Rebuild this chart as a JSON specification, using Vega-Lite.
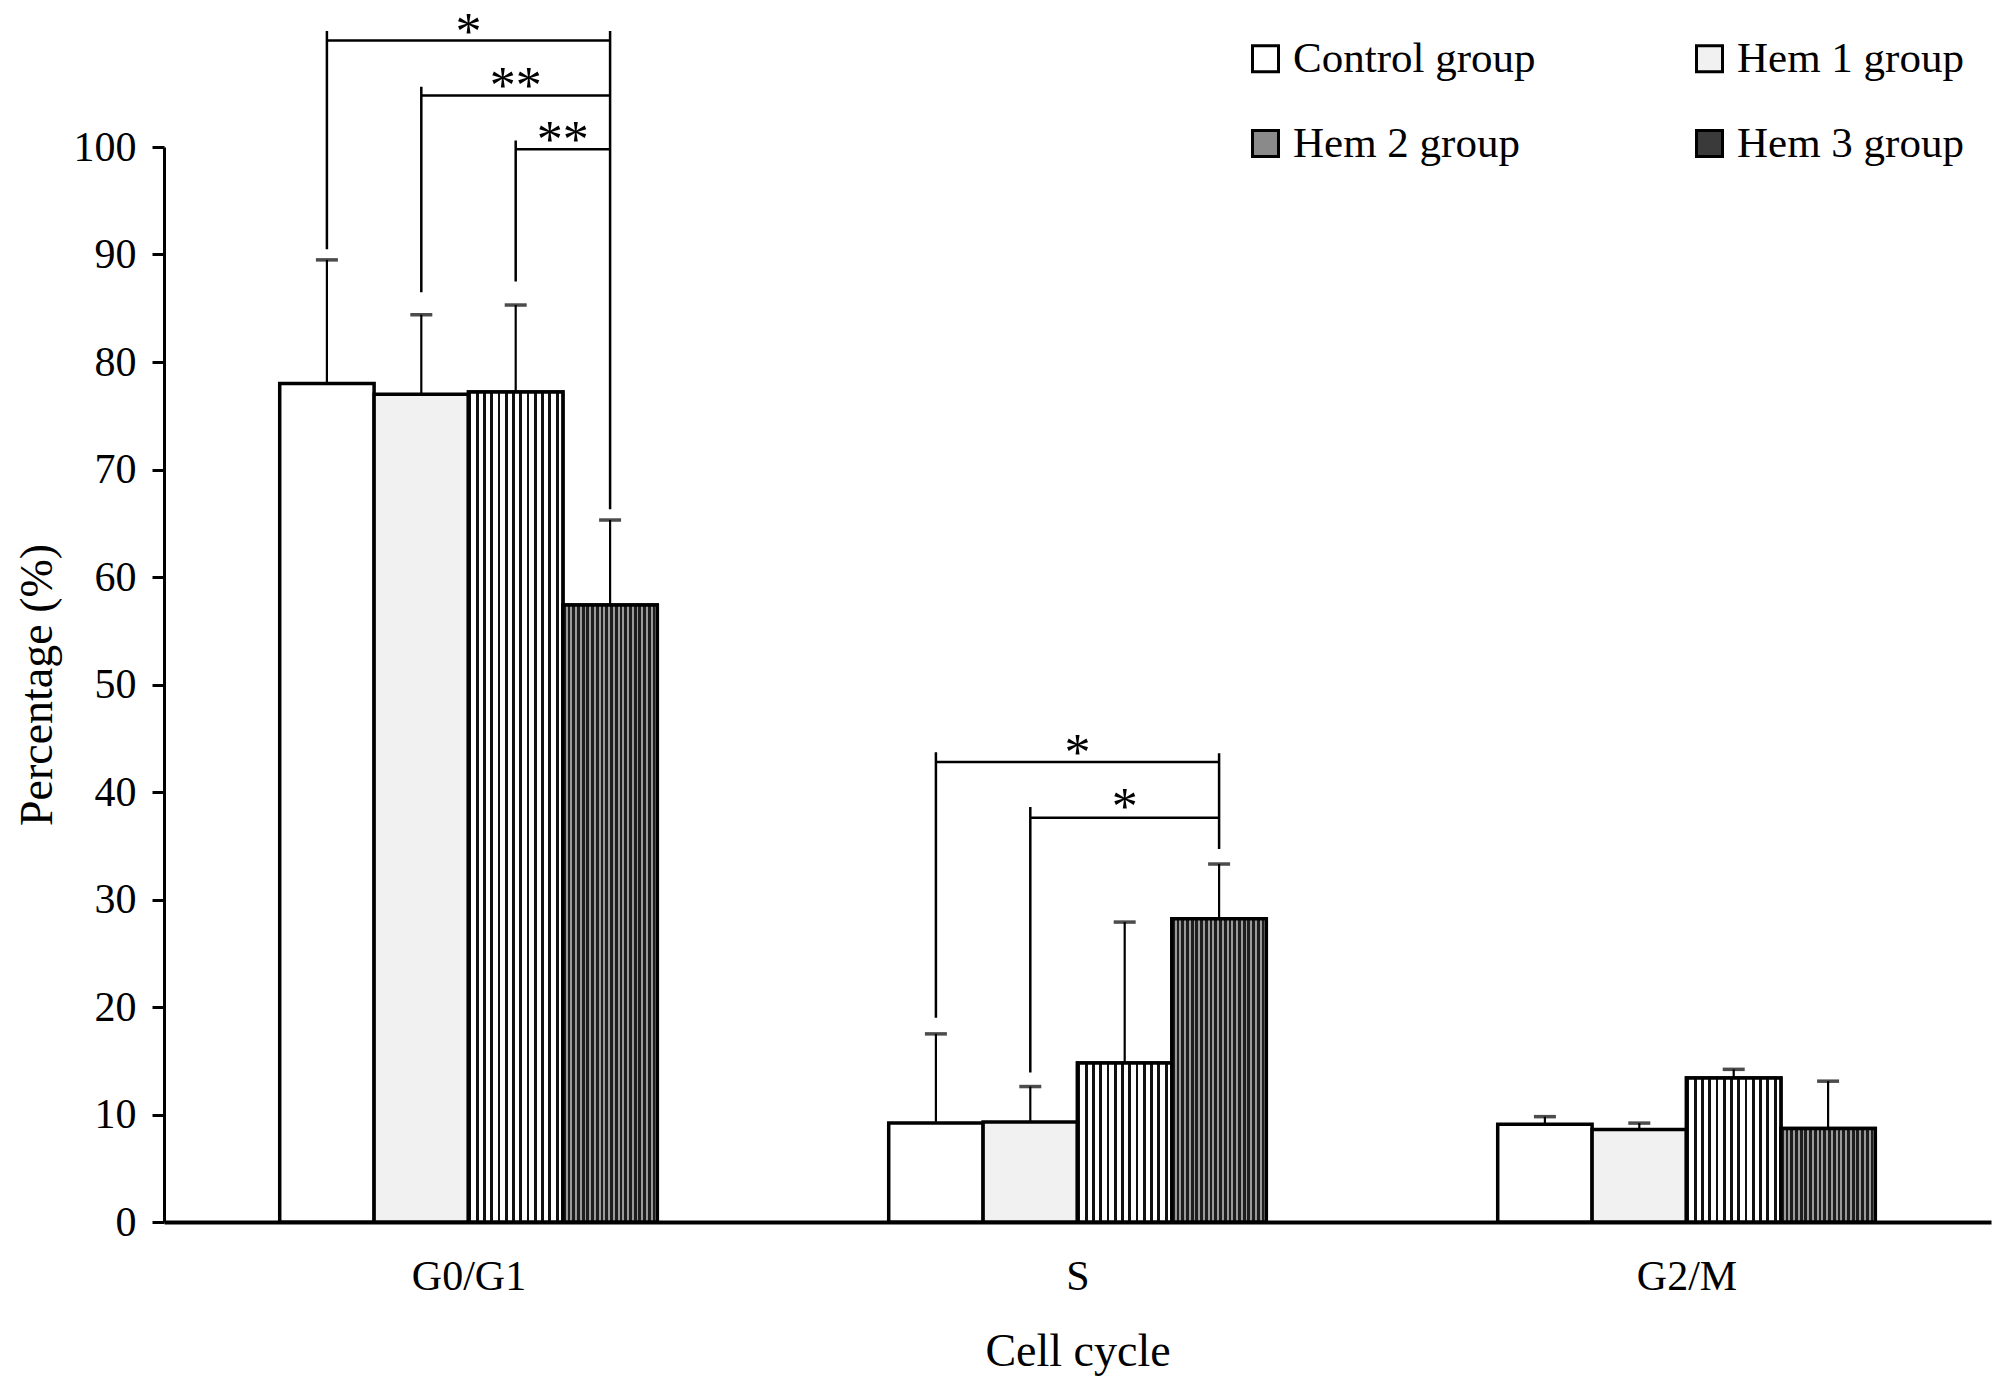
{
  "$schema": "https://vega.github.io/schema/vega-lite/v6.json",
  "autosize": {"type": "none"},
  "width": 1827,
  "height": 1075,
  "padding": {"left": 164, "top": 147, "right": 17, "bottom": 173},
  "background": "white",
  "config": {
    "font": "Liberation Serif",
    "view": {"stroke": null},
    "axis": {"labelColor": "#000", "titleColor": "#000", "domainColor": "#000", "tickColor": "#000", "grid": false, "titleFontWeight": "normal"}
  },
  "datasets": {
    "bars": [
      {"phase": "G0/G1", "group": "Control group", "value": 78.0, "upper": 89.5},
      {"phase": "G0/G1", "group": "Hem 1 group", "value": 77.0, "upper": 84.4},
      {"phase": "G0/G1", "group": "Hem 2 group", "value": 77.2, "upper": 85.3},
      {"phase": "G0/G1", "group": "Hem 3 group", "value": 57.4, "upper": 65.3},
      {"phase": "S", "group": "Control group", "value": 9.2, "upper": 17.5},
      {"phase": "S", "group": "Hem 1 group", "value": 9.3, "upper": 12.6},
      {"phase": "S", "group": "Hem 2 group", "value": 14.8, "upper": 27.9},
      {"phase": "S", "group": "Hem 3 group", "value": 28.2, "upper": 33.3},
      {"phase": "G2/M", "group": "Control group", "value": 9.1, "upper": 9.8},
      {"phase": "G2/M", "group": "Hem 1 group", "value": 8.6, "upper": 9.2},
      {"phase": "G2/M", "group": "Hem 2 group", "value": 13.4, "upper": 14.2},
      {"phase": "G2/M", "group": "Hem 3 group", "value": 8.7, "upper": 13.1}
    ],
    "brackets": [
      {"id": "b1", "ord": 0, "phase": "G0/G1", "group": "Control group", "level": 90.5},
      {"id": "b1", "ord": 1, "phase": "G0/G1", "group": "Control group", "level": 110.8},
      {"id": "b1", "ord": 2, "phase": "G0/G1", "group": "Control group", "level": 109.9},
      {"id": "b1", "ord": 3, "phase": "G0/G1", "group": "Hem 3 group", "level": 109.9},
      {"id": "b1", "ord": 4, "phase": "G0/G1", "group": "Hem 3 group", "level": 110.8},
      {"id": "b1", "ord": 5, "phase": "G0/G1", "group": "Hem 3 group", "level": 66.3},
      {"id": "b2", "ord": 0, "phase": "G0/G1", "group": "Hem 1 group", "level": 86.5},
      {"id": "b2", "ord": 1, "phase": "G0/G1", "group": "Hem 1 group", "level": 105.6},
      {"id": "b2", "ord": 2, "phase": "G0/G1", "group": "Hem 1 group", "level": 104.8},
      {"id": "b2", "ord": 3, "phase": "G0/G1", "group": "Hem 3 group", "level": 104.8},
      {"id": "b3", "ord": 0, "phase": "G0/G1", "group": "Hem 2 group", "level": 87.5},
      {"id": "b3", "ord": 1, "phase": "G0/G1", "group": "Hem 2 group", "level": 100.6},
      {"id": "b3", "ord": 2, "phase": "G0/G1", "group": "Hem 2 group", "level": 99.8},
      {"id": "b3", "ord": 3, "phase": "G0/G1", "group": "Hem 3 group", "level": 99.8},
      {"id": "b4", "ord": 0, "phase": "S", "group": "Control group", "level": 19.0},
      {"id": "b4", "ord": 1, "phase": "S", "group": "Control group", "level": 43.7},
      {"id": "b4", "ord": 2, "phase": "S", "group": "Control group", "level": 42.8},
      {"id": "b4", "ord": 3, "phase": "S", "group": "Hem 3 group", "level": 42.8},
      {"id": "b4", "ord": 4, "phase": "S", "group": "Hem 3 group", "level": 43.6},
      {"id": "b4", "ord": 5, "phase": "S", "group": "Hem 3 group", "level": 34.7},
      {"id": "b5", "ord": 0, "phase": "S", "group": "Hem 1 group", "level": 13.9},
      {"id": "b5", "ord": 1, "phase": "S", "group": "Hem 1 group", "level": 38.6},
      {"id": "b5", "ord": 2, "phase": "S", "group": "Hem 1 group", "level": 37.6},
      {"id": "b5", "ord": 3, "phase": "S", "group": "Hem 3 group", "level": 37.6}
    ],
    "starsCenter": [
      {"phase": "G0/G1", "level": 110.6, "label": "*"},
      {"phase": "S", "level": 43.5, "label": "*"}
    ],
    "starsHem2": [
      {"phase": "G0/G1", "group": "Hem 2 group", "level": 105.6, "label": "**"},
      {"phase": "S", "group": "Hem 2 group", "level": 38.5, "label": "*"}
    ],
    "starsHem2Edge": [
      {"phase": "G0/G1", "group": "Hem 2 group", "level": 100.6, "label": "**"}
    ]
  },
  "encoding": {
    "x": {
      "field": "phase", "type": "nominal", "sort": ["G0/G1", "S", "G2/M"],
      "scale": {"paddingInner": 0.38, "paddingOuter": 0.19},
      "axis": {
        "title": "Cell cycle", "titleFontSize": 46, "titlePadding": 32,
        "labelFontSize": 42, "labelAngle": 0, "labelPadding": 52,
        "ticks": true, "tickBand": "extent", "tickOffset": 115.7, "tickSize": -18, "tickWidth": 2.5, "domainWidth": 4
      }
    }
  },
  "layer": [
    {
      "data": {"name": "bars"},
      "mark": {"type": "bar", "stroke": "#000", "strokeWidth": 3.5},
      "encoding": {
        "xOffset": {"field": "group", "type": "nominal", "sort": ["Control group", "Hem 1 group", "Hem 2 group", "Hem 3 group"], "scale": {"paddingInner": 0, "paddingOuter": 0}},
        "y": {
          "field": "value", "type": "quantitative",
          "scale": {"domain": [0, 100], "nice": false},
          "axis": {
            "title": "Percentage (%)", "titleFontSize": 46, "titlePadding": 12,
            "values": [0, 10, 20, 30, 40, 50, 60, 70, 80, 90, 100],
            "labelFontSize": 42, "labelPadding": 16, "tickSize": 12, "tickWidth": 3, "domainWidth": 3
          }
        },
        "fill": {
          "field": "group", "type": "nominal",
          "sort": ["Control group", "Hem 1 group", "Hem 2 group", "Hem 3 group"],
          "scale": {
            "domain": ["Control group", "Hem 1 group", "Hem 2 group", "Hem 3 group"],
            "range": ["#ffffff", "#f1f1f1", "#8a8a8a", "#3a3a3a"]
          },
          "legend": {
            "title": null, "orient": "none", "legendX": 1080, "legendY": -110,
            "columns": 2, "direction": "horizontal", "columnPadding": 152, "rowPadding": 41, "padding": 0,
            "symbolType": "square", "symbolSize": 676, "symbolStrokeColor": "#000", "symbolStrokeWidth": 3,
            "labelFontSize": 43, "labelOffset": 6, "labelColor": "#000", "labelLimit": 0,
            "encode": {
              "symbols": {
                "update": {
                  "stroke": {"value": "#000"},
                  "strokeWidth": {"value": 3}
                }
              }
            }
          }
        }
      }
    },
    {
      "data": {"name": "bars"},
      "transform": [{"filter": "datum.group === 'Hem 2 group'"}],
      "mark": {"type": "bar", "stroke": "#000", "strokeWidth": 3.5, "fill": {"gradient": "linear", "x1": 0, "y1": 0, "x2": 1, "y2": 0, "stops": [
        {"offset": 0, "color": "#111"}, {"offset": 0.0308, "color": "#111"}, {"offset": 0.0308, "color": "#fff"}, {"offset": 0.0769, "color": "#fff"},
        {"offset": 0.0769, "color": "#111"}, {"offset": 0.1077, "color": "#111"}, {"offset": 0.1077, "color": "#fff"}, {"offset": 0.1538, "color": "#fff"},
        {"offset": 0.1538, "color": "#111"}, {"offset": 0.1846, "color": "#111"}, {"offset": 0.1846, "color": "#fff"}, {"offset": 0.2308, "color": "#fff"},
        {"offset": 0.2308, "color": "#111"}, {"offset": 0.2615, "color": "#111"}, {"offset": 0.2615, "color": "#fff"}, {"offset": 0.3077, "color": "#fff"},
        {"offset": 0.3077, "color": "#111"}, {"offset": 0.3385, "color": "#111"}, {"offset": 0.3385, "color": "#fff"}, {"offset": 0.3846, "color": "#fff"},
        {"offset": 0.3846, "color": "#111"}, {"offset": 0.4154, "color": "#111"}, {"offset": 0.4154, "color": "#fff"}, {"offset": 0.4615, "color": "#fff"},
        {"offset": 0.4615, "color": "#111"}, {"offset": 0.4923, "color": "#111"}, {"offset": 0.4923, "color": "#fff"}, {"offset": 0.5385, "color": "#fff"},
        {"offset": 0.5385, "color": "#111"}, {"offset": 0.5692, "color": "#111"}, {"offset": 0.5692, "color": "#fff"}, {"offset": 0.6154, "color": "#fff"},
        {"offset": 0.6154, "color": "#111"}, {"offset": 0.6462, "color": "#111"}, {"offset": 0.6462, "color": "#fff"}, {"offset": 0.6923, "color": "#fff"},
        {"offset": 0.6923, "color": "#111"}, {"offset": 0.7231, "color": "#111"}, {"offset": 0.7231, "color": "#fff"}, {"offset": 0.7692, "color": "#fff"},
        {"offset": 0.7692, "color": "#111"}, {"offset": 0.8, "color": "#111"}, {"offset": 0.8, "color": "#fff"}, {"offset": 0.8462, "color": "#fff"},
        {"offset": 0.8462, "color": "#111"}, {"offset": 0.8769, "color": "#111"}, {"offset": 0.8769, "color": "#fff"}, {"offset": 0.9231, "color": "#fff"},
        {"offset": 0.9231, "color": "#111"}, {"offset": 0.9538, "color": "#111"}, {"offset": 0.9538, "color": "#fff"}, {"offset": 1, "color": "#fff"}
      ]}},
      "encoding": {
        "xOffset": {"field": "group", "type": "nominal", "sort": ["Control group", "Hem 1 group", "Hem 2 group", "Hem 3 group"]},
        "y": {"field": "value", "type": "quantitative"}
      }
    },
    {
      "data": {"name": "bars"},
      "transform": [{"filter": "datum.group === 'Hem 3 group'"}],
      "mark": {"type": "bar", "stroke": "#000", "strokeWidth": 3.5, "fill": {"gradient": "linear", "x1": 0, "y1": 0, "x2": 1, "y2": 0, "stops": [
        {"offset": 0, "color": "#1e1e1e"}, {"offset": 0.03, "color": "#1e1e1e"}, {"offset": 0.03, "color": "#9a9a9a"}, {"offset": 0.05, "color": "#9a9a9a"},
        {"offset": 0.05, "color": "#1e1e1e"}, {"offset": 0.08, "color": "#1e1e1e"}, {"offset": 0.08, "color": "#9a9a9a"}, {"offset": 0.1, "color": "#9a9a9a"},
        {"offset": 0.1, "color": "#1e1e1e"}, {"offset": 0.13, "color": "#1e1e1e"}, {"offset": 0.13, "color": "#9a9a9a"}, {"offset": 0.15, "color": "#9a9a9a"},
        {"offset": 0.15, "color": "#1e1e1e"}, {"offset": 0.18, "color": "#1e1e1e"}, {"offset": 0.18, "color": "#9a9a9a"}, {"offset": 0.2, "color": "#9a9a9a"},
        {"offset": 0.2, "color": "#1e1e1e"}, {"offset": 0.23, "color": "#1e1e1e"}, {"offset": 0.23, "color": "#9a9a9a"}, {"offset": 0.25, "color": "#9a9a9a"},
        {"offset": 0.25, "color": "#1e1e1e"}, {"offset": 0.28, "color": "#1e1e1e"}, {"offset": 0.28, "color": "#9a9a9a"}, {"offset": 0.3, "color": "#9a9a9a"},
        {"offset": 0.3, "color": "#1e1e1e"}, {"offset": 0.33, "color": "#1e1e1e"}, {"offset": 0.33, "color": "#9a9a9a"}, {"offset": 0.35, "color": "#9a9a9a"},
        {"offset": 0.35, "color": "#1e1e1e"}, {"offset": 0.38, "color": "#1e1e1e"}, {"offset": 0.38, "color": "#9a9a9a"}, {"offset": 0.4, "color": "#9a9a9a"},
        {"offset": 0.4, "color": "#1e1e1e"}, {"offset": 0.43, "color": "#1e1e1e"}, {"offset": 0.43, "color": "#9a9a9a"}, {"offset": 0.45, "color": "#9a9a9a"},
        {"offset": 0.45, "color": "#1e1e1e"}, {"offset": 0.48, "color": "#1e1e1e"}, {"offset": 0.48, "color": "#9a9a9a"}, {"offset": 0.5, "color": "#9a9a9a"},
        {"offset": 0.5, "color": "#1e1e1e"}, {"offset": 0.53, "color": "#1e1e1e"}, {"offset": 0.53, "color": "#9a9a9a"}, {"offset": 0.55, "color": "#9a9a9a"},
        {"offset": 0.55, "color": "#1e1e1e"}, {"offset": 0.58, "color": "#1e1e1e"}, {"offset": 0.58, "color": "#9a9a9a"}, {"offset": 0.6, "color": "#9a9a9a"},
        {"offset": 0.6, "color": "#1e1e1e"}, {"offset": 0.63, "color": "#1e1e1e"}, {"offset": 0.63, "color": "#9a9a9a"}, {"offset": 0.65, "color": "#9a9a9a"},
        {"offset": 0.65, "color": "#1e1e1e"}, {"offset": 0.68, "color": "#1e1e1e"}, {"offset": 0.68, "color": "#9a9a9a"}, {"offset": 0.7, "color": "#9a9a9a"},
        {"offset": 0.7, "color": "#1e1e1e"}, {"offset": 0.73, "color": "#1e1e1e"}, {"offset": 0.73, "color": "#9a9a9a"}, {"offset": 0.75, "color": "#9a9a9a"},
        {"offset": 0.75, "color": "#1e1e1e"}, {"offset": 0.78, "color": "#1e1e1e"}, {"offset": 0.78, "color": "#9a9a9a"}, {"offset": 0.8, "color": "#9a9a9a"},
        {"offset": 0.8, "color": "#1e1e1e"}, {"offset": 0.83, "color": "#1e1e1e"}, {"offset": 0.83, "color": "#9a9a9a"}, {"offset": 0.85, "color": "#9a9a9a"},
        {"offset": 0.85, "color": "#1e1e1e"}, {"offset": 0.88, "color": "#1e1e1e"}, {"offset": 0.88, "color": "#9a9a9a"}, {"offset": 0.9, "color": "#9a9a9a"},
        {"offset": 0.9, "color": "#1e1e1e"}, {"offset": 0.93, "color": "#1e1e1e"}, {"offset": 0.93, "color": "#9a9a9a"}, {"offset": 0.95, "color": "#9a9a9a"},
        {"offset": 0.95, "color": "#1e1e1e"}, {"offset": 0.98, "color": "#1e1e1e"}, {"offset": 0.98, "color": "#9a9a9a"}, {"offset": 1, "color": "#9a9a9a"}
      ]}},
      "encoding": {
        "xOffset": {"field": "group", "type": "nominal", "sort": ["Control group", "Hem 1 group", "Hem 2 group", "Hem 3 group"]},
        "y": {"field": "value", "type": "quantitative"}
      }
    },
    {
      "data": {"name": "bars"},
      "mark": {"type": "rule", "color": "#000", "strokeWidth": 2.2},
      "encoding": {
        "xOffset": {"field": "group", "type": "nominal", "sort": ["Control group", "Hem 1 group", "Hem 2 group", "Hem 3 group"]},
        "y": {"field": "value", "type": "quantitative"},
        "y2": {"field": "upper"}
      }
    },
    {
      "data": {"name": "bars"},
      "mark": {"type": "tick", "color": "#000", "size": 22, "thickness": 3.5, "orient": "horizontal"},
      "encoding": {
        "xOffset": {"field": "group", "type": "nominal", "sort": ["Control group", "Hem 1 group", "Hem 2 group", "Hem 3 group"]},
        "y": {"field": "upper", "type": "quantitative"}
      }
    },
    {
      "data": {"name": "brackets"},
      "mark": {"type": "line", "color": "#000", "strokeWidth": 2.5, "clip": false},
      "encoding": {
        "xOffset": {"field": "group", "type": "nominal", "sort": ["Control group", "Hem 1 group", "Hem 2 group", "Hem 3 group"]},
        "y": {"field": "level", "type": "quantitative"},
        "detail": {"field": "id"},
        "order": {"field": "ord", "type": "quantitative"}
      }
    },
    {
      "data": {"name": "starsCenter"},
      "mark": {"type": "text", "fontSize": 52, "baseline": "middle", "align": "center", "color": "#000"},
      "encoding": {
        "y": {"field": "level", "type": "quantitative"},
        "text": {"field": "label"}
      }
    },
    {
      "data": {"name": "starsHem2"},
      "mark": {"type": "text", "fontSize": 52, "baseline": "middle", "align": "center", "color": "#000"},
      "encoding": {
        "xOffset": {"field": "group", "type": "nominal", "sort": ["Control group", "Hem 1 group", "Hem 2 group", "Hem 3 group"]},
        "y": {"field": "level", "type": "quantitative"},
        "text": {"field": "label"}
      }
    },
    {
      "data": {"name": "starsHem2Edge"},
      "mark": {"type": "text", "fontSize": 52, "baseline": "middle", "align": "center", "color": "#000", "dx": 47},
      "encoding": {
        "xOffset": {"field": "group", "type": "nominal", "sort": ["Control group", "Hem 1 group", "Hem 2 group", "Hem 3 group"]},
        "y": {"field": "level", "type": "quantitative"},
        "text": {"field": "label"}
      }
    }
  ]
}
